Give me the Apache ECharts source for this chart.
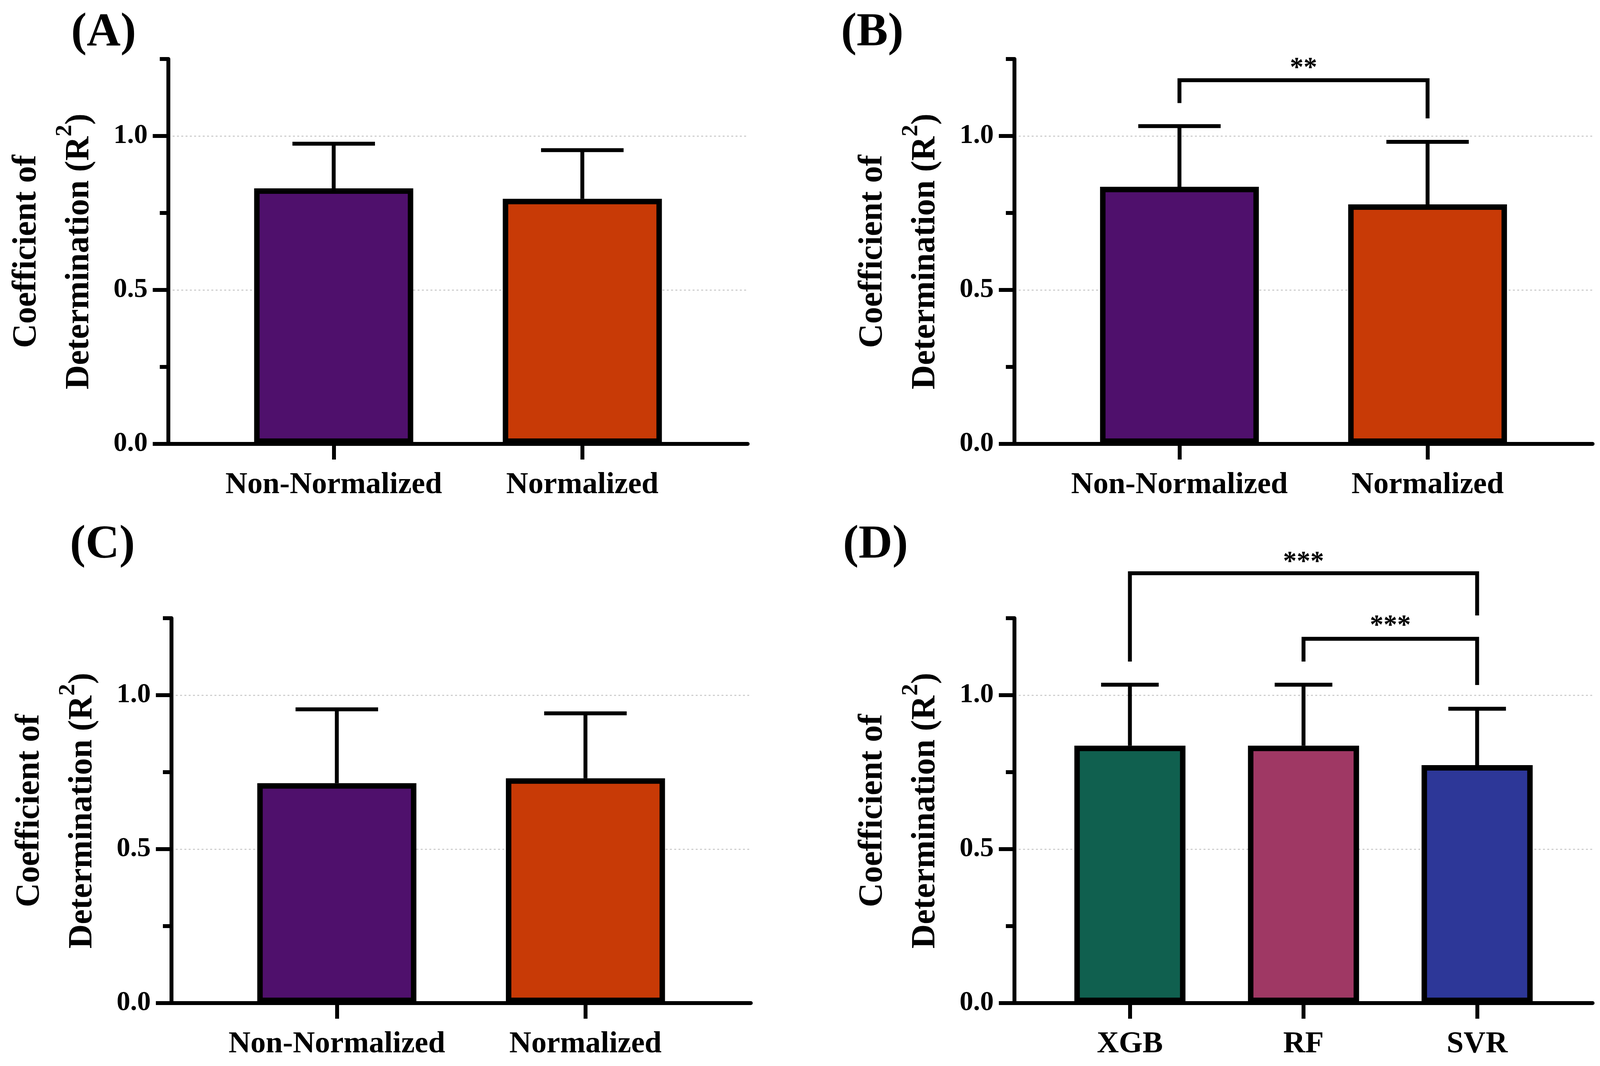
<!DOCTYPE html>
<html>
<head>
<meta charset="utf-8">
<script src="https://cdn.jsdelivr.net/npm/echarts@6/dist/echarts.min.js"></script>
<style>
html,body{margin:0;padding:0;background:#fff;}
#chart{width:4117px;height:2728px;}
</style>
</head>
<body>
<div id="chart"></div>
<script>
// ---------------- data ----------------
const categoriesNorm = ['Non-Normalized', 'Normalized'];
const categoriesModel = ['XGB', 'RF', 'SVR'];

const meanA = [0.830, 0.796];
const sdA   = [0.145, 0.158];
const meanB = [0.835, 0.778];
const sdB   = [0.197, 0.203];
const meanC = [0.714, 0.730];
const sdC   = [0.240, 0.211];
const meanD = [0.836, 0.836, 0.773];
const sdD   = [0.198, 0.198, 0.183];

const colorsNorm  = ['#4F106C', '#C83A06'];
const colorsModel = ['#10604F', '#9F3864', '#2D3798'];

const yTickLabelValues = [0, 0.5, 1.0];
const yMinorStep = 0.25;
const yMax = 1.25;

// brackets: [fromIndex, toIndex, lineLevel, leftLegEnd, rightLegEnd, starLevel]
const bracketsB = [[0, 1, 1.181, 1.107, 1.057, 1.234]];
const bracketLabelsB = ['**'];
const bracketsD = [[0, 2, 1.396, 1.109, 1.259, 1.446], [1, 2, 1.183, 1.109, 1.033, 1.239]];
const bracketLabelsD = ['***', '***'];

const panelLabels = ['(A)', '(B)', '(C)', '(D)'];

// ---------------- layout / style ----------------
const FONT = 'Liberation Serif';
const panels = [
  {cats: categoriesNorm,  mean: meanA, sd: sdA, colors: colorsNorm,  br: [], brl: [],
   grid: {left: 431, top: 151, width: 1483, height: 985}, lab: {left: 182, top: 25}},
  {cats: categoriesNorm,  mean: meanB, sd: sdB, colors: colorsNorm,  br: bracketsB, brl: bracketLabelsB,
   grid: {left: 2597, top: 151, width: 1480, height: 985}, lab: {left: 2153, top: 25}},
  {cats: categoriesNorm,  mean: meanC, sd: sdC, colors: colorsNorm,  br: [], brl: [],
   grid: {left: 439, top: 1582, width: 1483, height: 985}, lab: {left: 179, top: 1336}},
  {cats: categoriesModel, mean: meanD, sd: sdD, colors: colorsModel, br: bracketsD, brl: bracketLabelsD,
   grid: {left: 2597, top: 1582, width: 1480, height: 985}, lab: {left: 2158, top: 1336}}
];
const SIDE = 0.665;

const grids = [], xAxes = [], yAxes = [], series = [], titles = [];

panels.forEach((p, i) => {
  grids.push(Object.assign({outerBoundsMode: 'none', containLabel: false}, p.grid));
  titles.push({
    text: panelLabels[i], left: p.lab.left, top: p.lab.top, padding: 0,
    textStyle: {fontFamily: FONT, fontWeight: 'bold', fontSize: 120, lineHeight: 120, color: '#000'}
  });
  const idx = p.cats.map((c, j) => j);
  xAxes.push({
    type: 'value', gridIndex: i, min: -SIDE, max: p.cats.length - 1 + SIDE,
    axisLine: {show: true, onZero: false, lineStyle: {color: '#000', width: 10}},
    axisTick: {show: true, customValues: idx, length: 40, lineStyle: {color: '#000', width: 10}},
    axisLabel: {show: true, customValues: idx, formatter: v => p.cats[Math.round(v)] || '',
      fontFamily: FONT, fontWeight: 'bold', fontSize: 78, color: '#000', margin: 67},
    splitLine: {show: false}
  });
  // major y axis
  yAxes.push({
    type: 'value', gridIndex: i, min: 0, max: yMax, interval: yMinorStep, position: 'left',
    axisLine: {show: true, onZero: false, lineStyle: {color: '#000', width: 10}},
    axisTick: {show: true, customValues: yTickLabelValues, length: 40, lineStyle: {color: '#000', width: 10}},
    axisLabel: {show: true, customValues: yTickLabelValues, formatter: v => Number(v).toFixed(1),
      fontFamily: FONT, fontWeight: 'bold', fontSize: 70, color: '#000', margin: 53},
    splitLine: {show: true, lineStyle: {color: '#cfcfcf', width: 3, type: [5, 6]}},
    name: '{a|Coefficient of}\n{a|Determination (R}{s|2}{a|)}',
    nameLocation: 'middle', nameRotate: 90, nameGap: 160,
    nameTextStyle: {
      fontFamily: FONT, fontWeight: 'bold', fontSize: 86, lineHeight: 135, color: '#000',
      rich: {
        a: {fontFamily: FONT, fontWeight: 'bold', fontSize: 86, lineHeight: 135, color: '#000'},
        s: {fontFamily: FONT, fontWeight: 'bold', fontSize: 60, color: '#000', verticalAlign: 'top'}
      }
    }
  });
  // minor y axis (short ticks)
  yAxes.push({
    type: 'value', gridIndex: i, min: 0, max: yMax, interval: yMinorStep, position: 'left',
    axisLine: {show: false, onZero: false},
    axisTick: {show: true, length: 22, lineStyle: {color: '#000', width: 10}},
    axisLabel: {show: false},
    splitLine: {show: false}
  });

  series.push({
    type: 'bar', xAxisIndex: i, yAxisIndex: 2 * i, z: 3,
    barWidth: '64%',
    itemStyle: {borderColor: '#000', borderWidth: 14},
    data: p.cats.map((c, j) => ({value: [j, p.mean[j]], itemStyle: {color: p.colors[j]}}))
  });
  series.push({
    type: 'custom', xAxisIndex: i, yAxisIndex: 2 * i, z: 2,
    encode: {x: 0, y: 1},
    data: p.cats.map((c, j) => [j, p.mean[j], p.sd[j]]),
    renderItem: function (params, api) {
      const x = api.value(0), m = api.value(1), s = api.value(2);
      const p0 = api.coord([x, m]);
      const p1 = api.coord([x, m + s]);
      const half = api.size([0.166, 0])[0];
      return {
        type: 'group',
        children: [
          {type: 'line', shape: {x1: p0[0], y1: p0[1], x2: p1[0], y2: p1[1]},
           style: {stroke: '#000', lineWidth: 10}},
          {type: 'line', shape: {x1: p1[0] - half, y1: p1[1], x2: p1[0] + half, y2: p1[1]},
           style: {stroke: '#000', lineWidth: 10}}
        ]
      };
    }
  });
  if (p.br.length) {
    const labels = p.brl;
    series.push({
      type: 'custom', xAxisIndex: i, yAxisIndex: 2 * i, z: 4, clip: false,
      encode: {x: [0, 1], y: [2, 3, 4, 5]},
      data: p.br,
      renderItem: function (params, api) {
        const x0 = api.value(0), x1 = api.value(1), yl = api.value(2),
              ya = api.value(3), yb = api.value(4), ys = api.value(5);
        const a = api.coord([x0, ya]), b = api.coord([x0, yl]),
              c = api.coord([x1, yl]), d = api.coord([x1, yb]),
              s = api.coord([(x0 + x1) / 2, ys]);
        return {
          type: 'group',
          children: [
            {type: 'polyline', shape: {points: [a, b, c, d]},
             style: {stroke: '#000', lineWidth: 10, fill: 'none', lineJoin: 'miter'}},
            {type: 'text', x: s[0], y: s[1] + 12,
             style: {text: labels[params.dataIndex], fontFamily: FONT, fontWeight: 'bold',
                     fontSize: 70, fill: '#000', align: 'center', verticalAlign: 'middle'}}
          ]
        };
      }
    });
  }
});

const chart = echarts.init(document.getElementById('chart'), null, {renderer: 'canvas'});
chart.setOption({
  backgroundColor: '#ffffff',
  animation: false,
  title: titles,
  grid: grids,
  xAxis: xAxes,
  yAxis: yAxes,
  series: series
});
</script>
</body>
</html>
